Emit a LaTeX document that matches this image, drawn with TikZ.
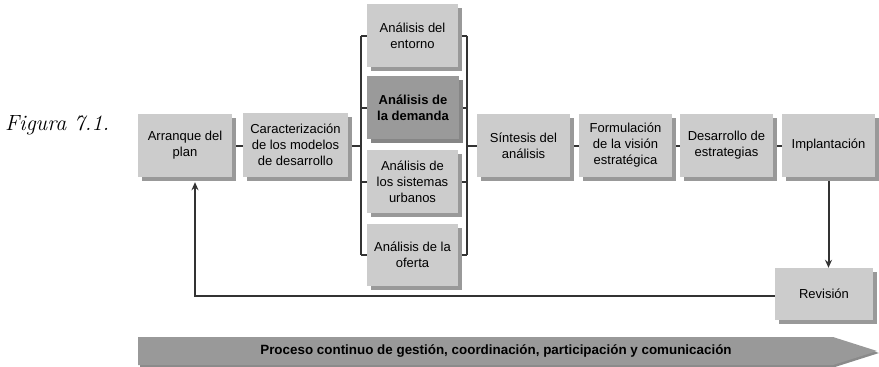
\documentclass[tikz,border=0pt]{standalone}
\usepackage{fontspec}
\newfontfamily\arial{Liberation Sans}
\usetikzlibrary{shadows,arrows.meta,backgrounds}
\definecolor{boxfill}{HTML}{CCCCCC}
\definecolor{boxshadow}{HTML}{999999}
\definecolor{darkfill}{HTML}{9A9A9A}
\definecolor{darkshadow}{HTML}{868686}
\definecolor{linecol}{HTML}{333333}
\definecolor{arrowfill}{HTML}{999999}
\definecolor{arrowshadow}{HTML}{8A8A8A}
\begin{document}
\begin{tikzpicture}[x=1pt,y=-1pt,
  stagebase/.style={rectangle, minimum width=93pt, minimum height=63pt, inner sep=0pt, align=center},
  stage/.style={stagebase, fill=boxfill, font=\arial\fontsize{13}{16}\selectfont,
    drop shadow={shadow xshift=4pt, shadow yshift=-4pt, fill=boxshadow, opacity=1}},
  darkstage/.style={stagebase, fill=darkfill, font=\arial\bfseries\fontsize{13}{16}\selectfont,
    drop shadow={shadow xshift=4pt, shadow yshift=-4pt, fill=darkshadow, opacity=1}},
  conn/.style={draw=linecol, line width=2pt},
  arr/.style={conn, -{Stealth[length=8pt,width=7pt]}}
]
\useasboundingbox (0,0) rectangle (879,367);

\node[anchor=base west, inner sep=0pt, font=\fontsize{22}{24}\selectfont] (fig) at (5,130) {\itshape Figura \oldstylenums{7.1.}};

\node[stage, minimum width=94pt] (arranque) at (185,145.5) {Arranque del\\plan};
\node[stage, minimum width=105pt, minimum height=64pt] (caract) at (295.5,145) {Caracterización\\de los modelos\\de desarrollo};

\node[stage, minimum width=91pt] (entorno) at (412.5,35.5) {Análisis del\\entorno};
\node[darkstage, minimum width=92pt] (demanda) at (413,107.5) {Análisis de\\la demanda};
\node[stage, minimum width=91pt] (sistemas) at (412.5,181.5) {Análisis de\\los sistemas\\urbanos};
\node[stage, minimum width=91pt, minimum height=62pt] (oferta) at (412.5,255) {Análisis de la\\oferta};

\node[stage] (sintesis) at (523.5,145.5) {Síntesis del\\análisis};
\node[stage] (formulacion) at (625.5,145.5) {Formulación\\de la visión\\estratégica};
\node[stage] (desarrollo) at (726.5,145.5) {Desarrollo de\\estrategias};
\node[stage] (implantacion) at (828.5,145.5) {Implantación};

\node[stage, minimum width=98pt, minimum height=52pt] (revision) at (824,294) {Revisión};

\coordinate (bL) at (361,146);
\coordinate (bR) at (467,146);
\coordinate (fb) at (195,296);

\begin{scope}[on background layer]
  \draw[conn] (arranque.east |- bL) -- (caract.west |- bL);
  \draw[conn] (caract.east |- bL) -- (bL);
  \draw[conn] (bL |- entorno.west) -- (bL |- oferta.west);
  \foreach \n in {entorno,demanda,sistemas,oferta}{
    \draw[conn] (bL |- \n.west) -- (\n.west);
    \draw[conn] (bR |- \n.east) -- (\n.east);
  }
  \draw[conn] (bR |- entorno.east) -- (bR |- oferta.east);
  \draw[conn] (bR) -- (sintesis.west |- bR);
  \draw[conn] (sintesis.east |- bR) -- (formulacion.west |- bR);
  \draw[conn] (formulacion.east |- bR) -- (desarrollo.west |- bR);
  \draw[conn] (desarrollo.east |- bR) -- (implantacion.west |- bR);
  \draw[arr] (implantacion.south) -- (implantacion.south |- revision.north);
  \draw[arr, shorten >=5pt] (revision.west |- fb) -- (fb) -- (fb |- arranque.south);
\end{scope}

\fill[arrowshadow] (140,339) -- (835,339) -- (879,353) -- (835,367) -- (140,367) -- cycle;
\fill[arrowfill] (138,337) -- (833,337) -- (877,351) -- (833,365) -- (138,365) -- cycle;
\node[font=\arial\bfseries\fontsize{13.4}{15}\selectfont] (proceso) at (496,351.5) {Proceso continuo de gestión, coordinación, participación y comunicación};
\end{tikzpicture}
\end{document}
